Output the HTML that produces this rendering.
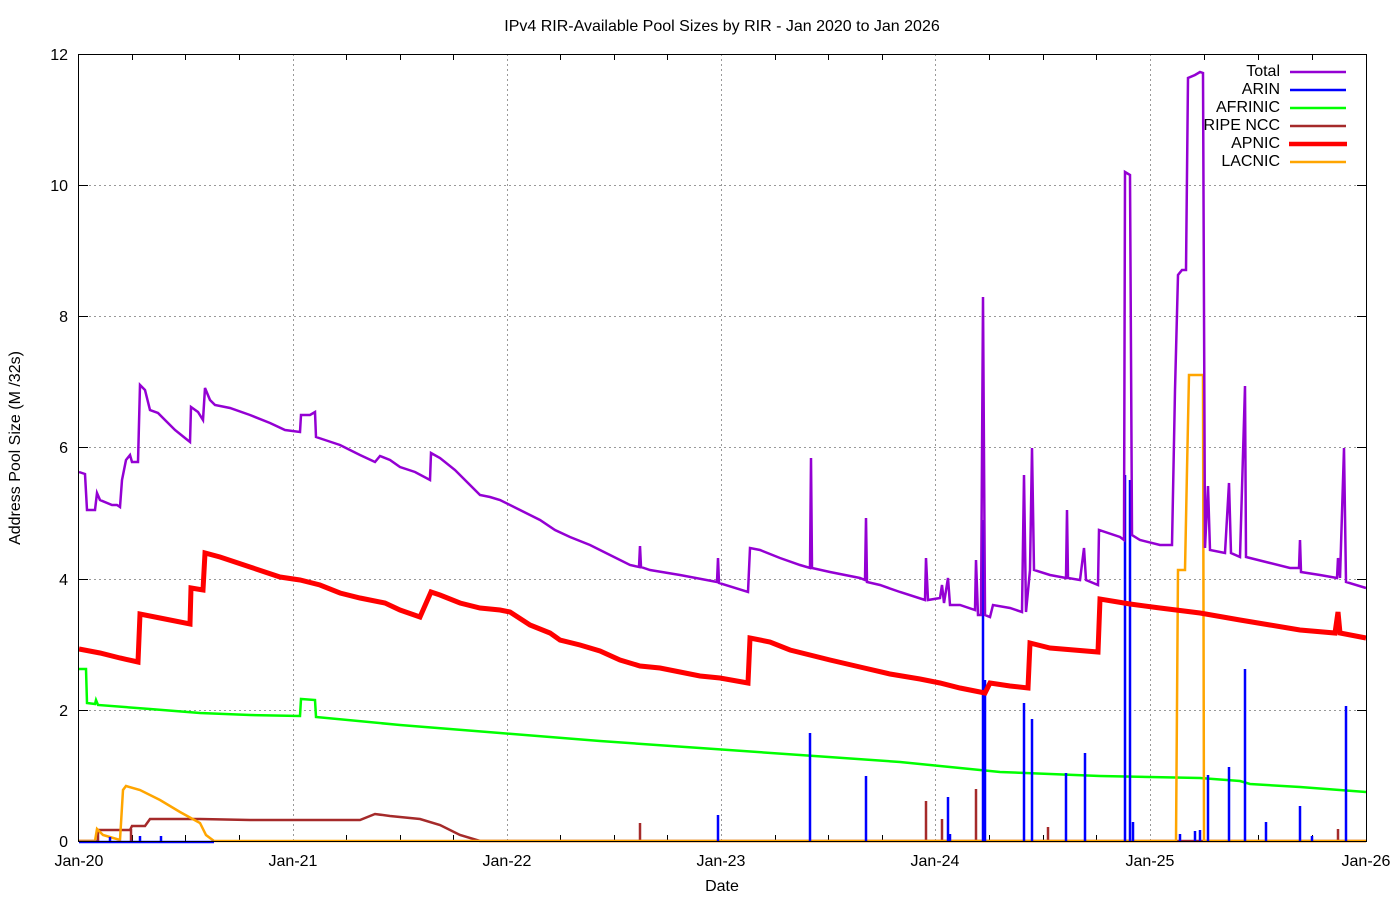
<!DOCTYPE html>
<html><head><meta charset="utf-8"><style>
html,body{margin:0;padding:0;background:#fff}
svg text{font-family:"Liberation Sans",Arial,sans-serif;fill:#000}
</style></head><body>
<svg width="1400" height="900" viewBox="0 0 1400 900" xmlns="http://www.w3.org/2000/svg">
<rect width="1400" height="900" fill="#fff"/>
<text x="722" y="31" font-size="16" text-anchor="middle">IPv4 RIR-Available Pool Sizes by RIR - Jan 2020 to Jan 2026</text>
<g stroke="#999" stroke-width="1" stroke-dasharray="2,3">
<line x1="79" y1="185.5" x2="1366" y2="185.5"/><line x1="79" y1="316.5" x2="1366" y2="316.5"/>
<line x1="79" y1="447.5" x2="1366" y2="447.5"/><line x1="79" y1="579.5" x2="1366" y2="579.5"/>
<line x1="79" y1="710.5" x2="1366" y2="710.5"/>
<line x1="293.5" y1="54" x2="293.5" y2="841"/><line x1="507.5" y1="54" x2="507.5" y2="841"/>
<line x1="721.5" y1="54" x2="721.5" y2="841"/><line x1="935.5" y1="54" x2="935.5" y2="841"/>
<line x1="1150.5" y1="54" x2="1150.5" y2="841"/>
</g>
<g font-size="16" text-anchor="end">
<text x="68" y="60">12</text><text x="68" y="191">10</text><text x="68" y="322">8</text>
<text x="68" y="453">6</text><text x="68" y="585">4</text><text x="68" y="716">2</text><text x="68" y="847">0</text>
</g>
<g font-size="16" text-anchor="middle">
<text x="79" y="866">Jan-20</text><text x="293" y="866">Jan-21</text><text x="507" y="866">Jan-22</text>
<text x="721" y="866">Jan-23</text><text x="935" y="866">Jan-24</text><text x="1150" y="866">Jan-25</text>
<text x="1366" y="866">Jan-26</text>
<text x="722" y="891">Date</text>
</g>
<text font-size="16" text-anchor="middle" transform="translate(20,448) rotate(-90)">Address Pool Size (M /32s)</text>
<g stroke="#000" stroke-width="1">
<path d="M132.5,54v6M185.5,54v6M239.5,54v6M346.5,54v6M400.5,54v6M453.5,54v6M560.5,54v6M614.5,54v6M667.5,54v6M775.5,54v6M828.5,54v6M882.5,54v6M989.5,54v6M1043.5,54v6M1096.5,54v6M1204.5,54v6M1258.5,54v6M1312.5,54v6"/>
<path d="M132.5,841v-6M185.5,841v-6M239.5,841v-6M346.5,841v-6M400.5,841v-6M453.5,841v-6M560.5,841v-6M614.5,841v-6M667.5,841v-6M775.5,841v-6M828.5,841v-6M882.5,841v-6M989.5,841v-6M1043.5,841v-6M1096.5,841v-6M1204.5,841v-6M1258.5,841v-6M1312.5,841v-6"/>
<path d="M79,185.5h9M79,316.5h9M79,447.5h9M79,579.5h9M79,710.5h9M1366,185.5h-9M1366,316.5h-9M1366,447.5h-9M1366,579.5h-9M1366,710.5h-9"/>
</g>
<g fill="none" stroke-linejoin="miter">
<polyline stroke="#00ff00" stroke-width="2.5" points="79,669 86,669 87,703 95,704 96,700 98,705 150,709 200,713 250,715 300,716 301,699 315,700 316,717 400,725 500,733 600,741 700,748 800,755 900,762 1000,772 1100,776 1200,778 1240,781 1250,784 1300,787 1366,792"/>
<polyline stroke="#a52a2a" stroke-width="2.5" points="79,841 98,841 98,830 130,830 132,826 145,826 150,819 200,819 250,820 300,820 360,820 375,814 390,816 420,819 440,825 460,835 480,841 1366,841"/>
<path stroke="#a52a2a" stroke-width="2.5" d="M131,841v-12M640,841v-18M926,841v-40M942,841v-22M976,841v-52M1048,841v-14M1338,841v-12"/>
<polyline stroke="#ffa500" stroke-width="2.5" points="79,841 95,841 97,829 103,835 120,840 123,790 126,786 140,790 160,800 180,812 200,823 206,835 214,841 1176,841 1178,570 1185,570 1187,470 1189,375 1203,375 1204,841 1366,841"/>
<polyline stroke="#0000ff" stroke-width="2.5" points="79,842 214,842"/>
<path stroke="#0000ff" stroke-width="2.5" d="M718,841V815M810,841V733M866,841V776M948,841V797M983,841V520M985,841V680M1024,841V703M1032,841V719M1066,841V773M1085,841V753M1125,841V475M1130,841V480M1133,841V822M1180,841V834M1195,841V831M1200,841V830M1208,841V775M1229,841V767M1245,841V669M1266,841V822M1300,841V806M1312,841V836M1346,841V706M161,841V836M140,841V836M110,841V837M950,841V834"/>
<polyline stroke="#9400d3" stroke-width="2.5" points="79,472 85,474 87,510 95,510 97,493 100,500 112,505 117,505 120,507 122,480 126,460 130,455 132,462 138,462 140,385 145,390 150,410 158,413 165,420 175,430 185,438 190,442 191,407 198,412 203,420 205,388 210,400 215,405 230,408 250,415 270,423 285,430 300,432 301,415 310,415 315,412 316,437 325,440 340,445 360,455 375,462 380,456 390,460 400,467 415,472 430,480 431,453 440,458 455,470 470,485 480,495 490,497 500,500 520,510 540,520 555,530 570,537 590,545 610,555 630,565 639,567 640,546 641,567 650,570 680,575 717,582 718,558 719,583 748,592 750,548 760,550 780,558 800,565 810,568 811,458 812,568 830,572 860,578 865,580 866,518 867,582 880,585 900,592 925,600 926,558 928,600 940,598 942,585 944,603 948,578 950,605 960,605 975,610 976,560 978,615 981,615 983,297 985,615 990,617 993,605 1010,608 1022,612 1024,475 1026,612 1030,570 1032,448 1034,570 1050,575 1066,578 1067,510 1068,578 1080,580 1084,548 1086,580 1098,585 1099,530 1120,537 1124,540 1125,172 1130,175 1132,535 1140,540 1160,545 1172,545 1175,390 1178,275 1182,270 1186,270 1188,78 1195,75 1200,72 1203,73 1205,548 1208,486 1210,550 1225,553 1229,483 1231,553 1240,557 1245,386 1246,557 1270,563 1290,568 1299,568 1300,540 1301,572 1320,575 1337,578 1338,558 1340,578 1344,448 1346,582 1366,588"/>
<polyline stroke="#ff0000" stroke-width="5" points="79,649 100,653 120,658 138,662 140,614 160,618 190,624 191,588 203,590 205,553 220,557 250,567 280,577 300,580 320,585 340,593 360,598 385,603 400,610 420,617 431,592 440,595 460,603 480,608 500,610 510,612 530,625 550,633 560,640 580,645 600,651 620,660 640,666 660,668 680,672 700,676 720,678 748,683 750,638 770,642 790,650 810,655 830,660 860,667 890,674 920,679 940,683 960,688 985,693 990,683 1010,686 1028,688 1030,643 1050,648 1098,652 1100,599 1130,604 1160,608 1200,613 1240,620 1270,625 1300,630 1335,633 1338,612 1340,633 1366,638"/>
</g>
<rect x="78.5" y="54.5" width="1288" height="787" fill="none" stroke="#000" stroke-width="1"/>
<g font-size="16" text-anchor="end">
<text x="1280" y="76">Total</text><text x="1280" y="94">ARIN</text><text x="1280" y="112">AFRINIC</text>
<text x="1280" y="130">RIPE NCC</text><text x="1280" y="148">APNIC</text><text x="1280" y="166">LACNIC</text>
</g>
<g stroke-width="2.5">
<line x1="1290" y1="72" x2="1346" y2="72" stroke="#9400d3"/>
<line x1="1290" y1="90" x2="1346" y2="90" stroke="#0000ff"/>
<line x1="1290" y1="108" x2="1346" y2="108" stroke="#00ff00"/>
<line x1="1290" y1="126" x2="1346" y2="126" stroke="#a52a2a"/>
<line x1="1289" y1="144" x2="1347" y2="144" stroke="#ff0000" stroke-width="4.5"/>
<line x1="1290" y1="162" x2="1346" y2="162" stroke="#ffa500"/>
</g>
</svg>
</body></html>
